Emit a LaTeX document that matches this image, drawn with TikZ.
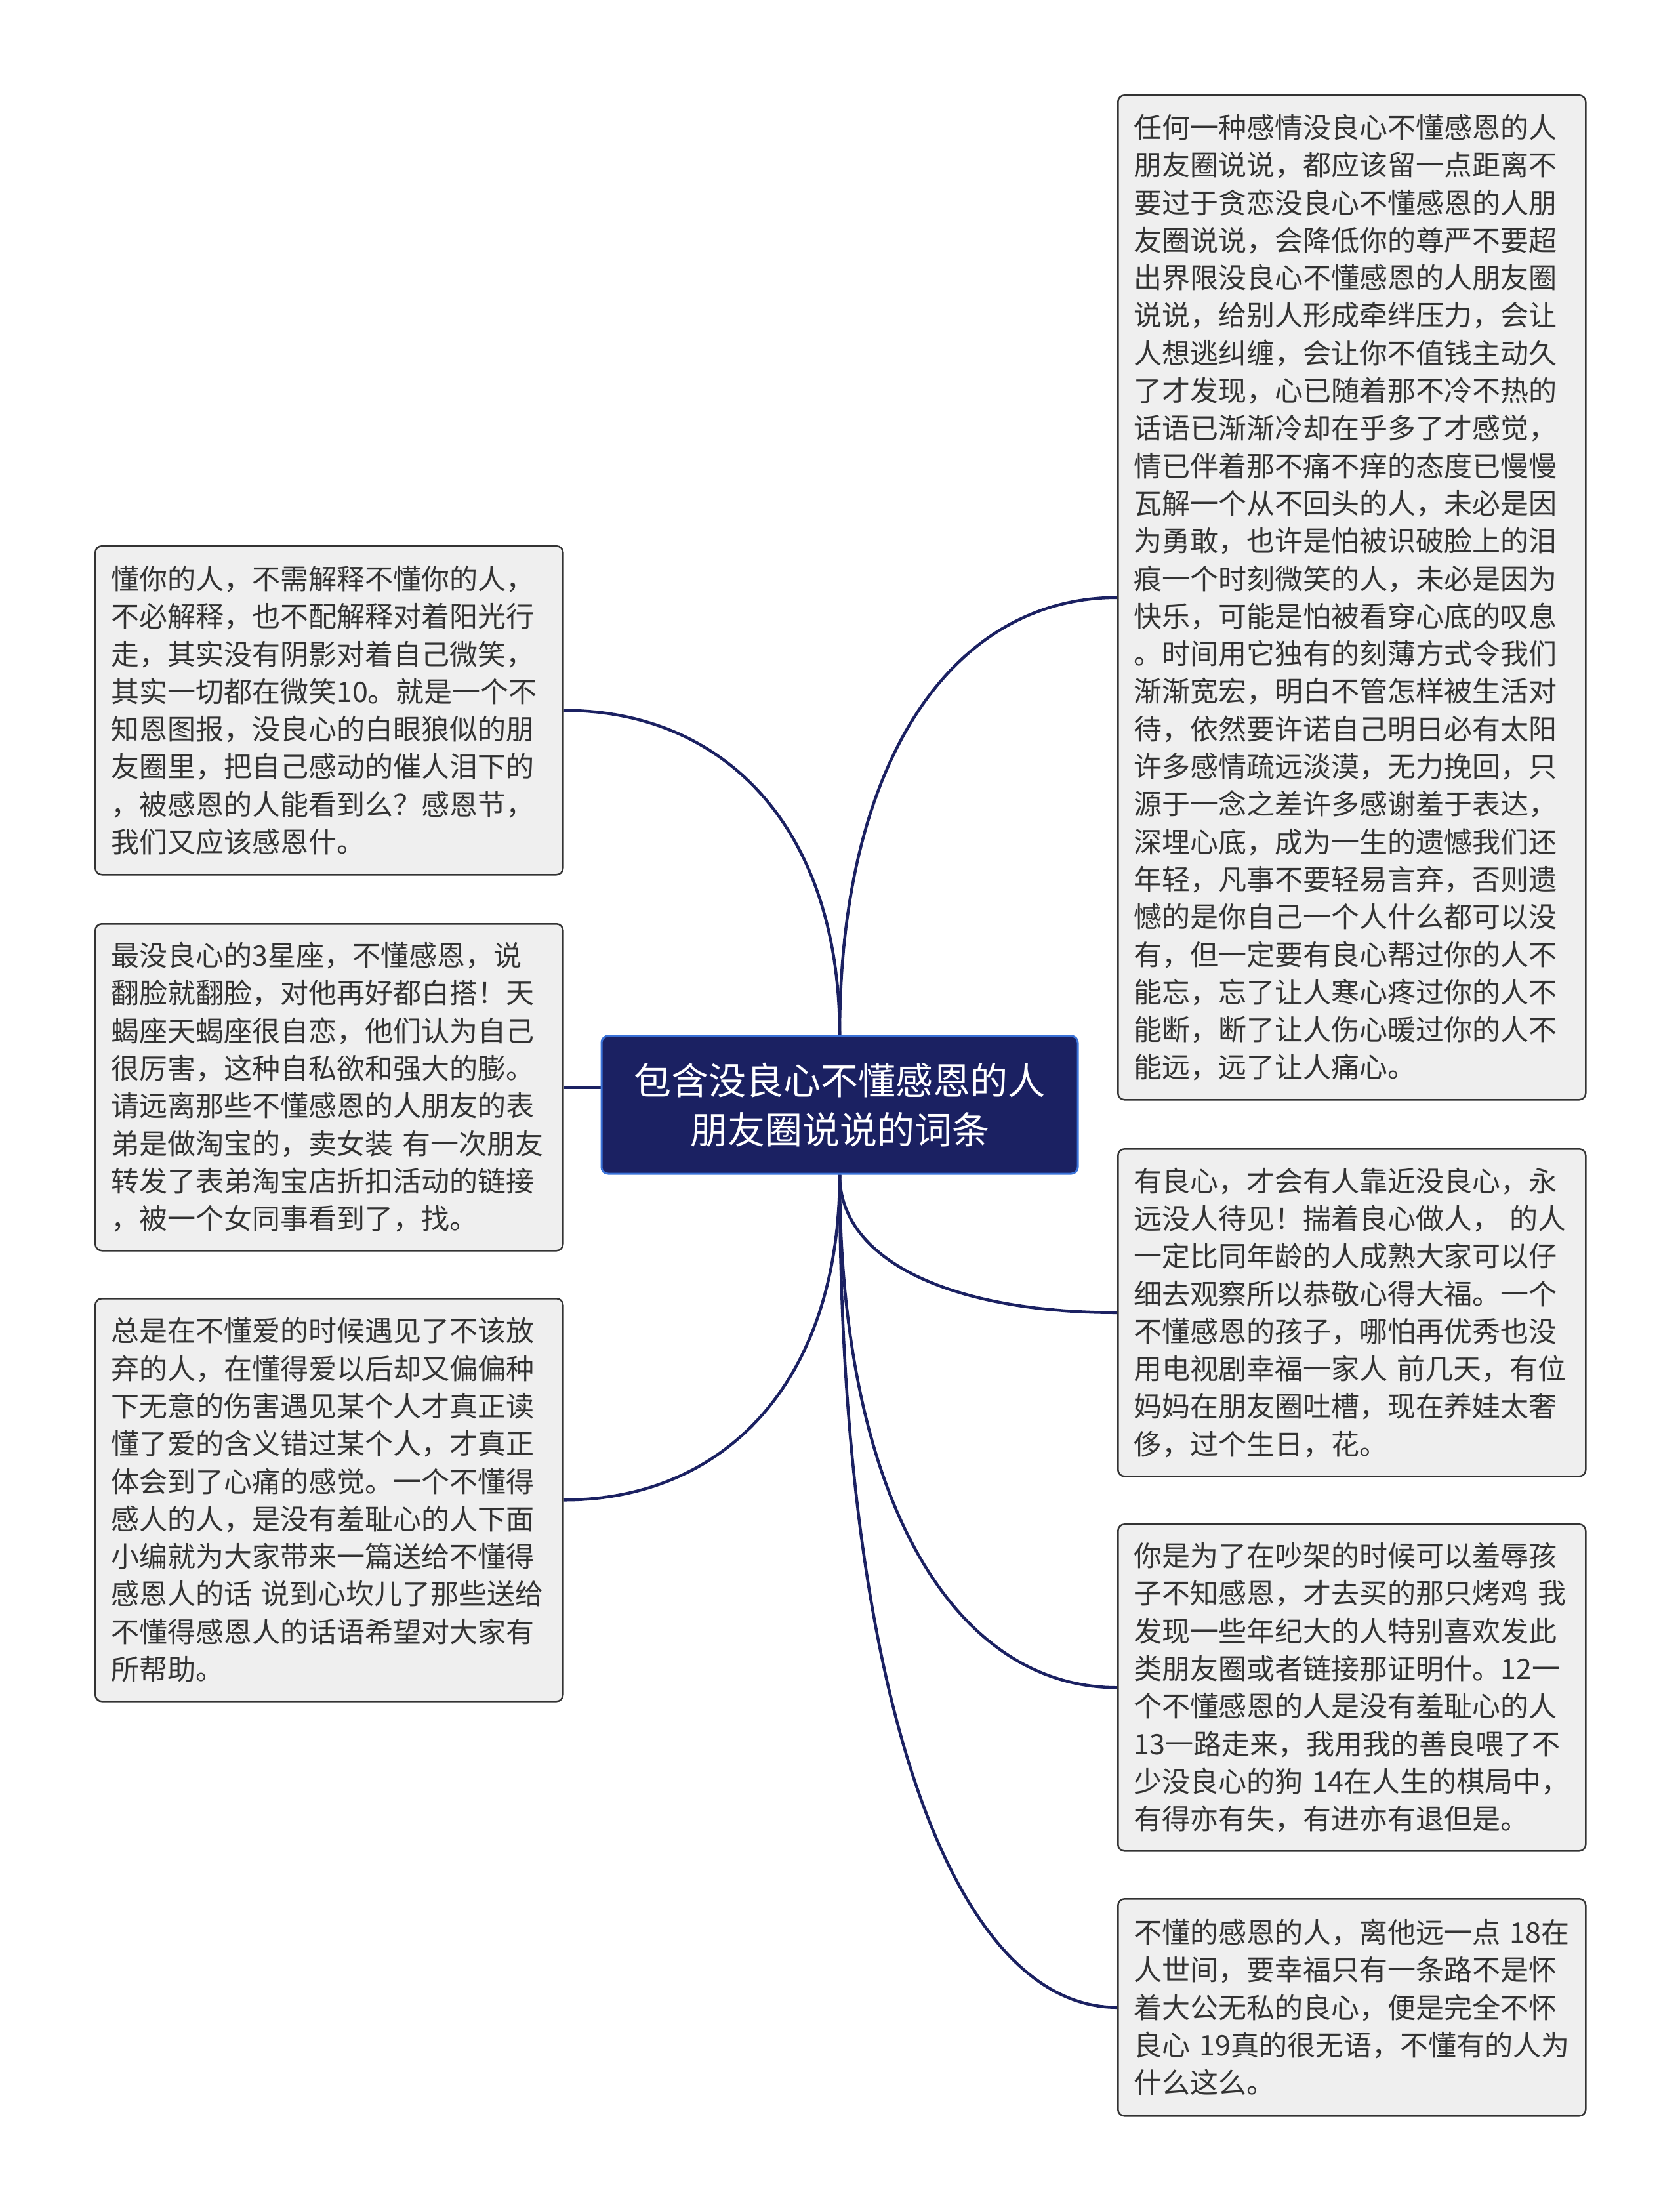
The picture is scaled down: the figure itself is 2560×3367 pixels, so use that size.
\documentclass[tikz,border=0pt]{standalone}
\usepackage{fontspec}
\setmainfont{Noto Sans CJK SC}
\usetikzlibrary{calc}
\definecolor{navy}{HTML}{1B2162}
\definecolor{rootborder}{HTML}{3A72D8}
\definecolor{leaffill}{HTML}{EFEFEF}
\definecolor{leafborder}{HTML}{333333}
\definecolor{leaftext}{HTML}{333333}
\pgfdeclarelayer{background}
\pgfsetlayers{background,main}
% #1 leaf node, #2 its anchor, #3 anchor of root
\newcommand\mmbranch[3]{%
  \draw[conn] (#1.#2) .. controls ($(#1.#2)!0.58!(root.#3 |- #1.#2)$) and ($(root.#3 |- #1.#2)!0.36!(root.#3)$) .. (root.#3);}
\begin{document}
\begin{tikzpicture}[x=1pt,y=-1pt,
  leaf/.style={draw=leafborder, line width=2.5pt, fill=leaffill, rounded corners=10pt,
    text=leaftext, align=left, text width=665pt, inner xsep=24pt, inner ysep=0pt,
    anchor=north west, font=\fontsize{43}{57.3}\selectfont},
  rootnode/.style={draw=rootborder, line width=3pt, fill=navy, rounded corners=10pt,
    text=white, align=center, minimum width=726pt, minimum height=210pt,
    font=\fontsize{57}{75}\selectfont},
  conn/.style={draw=navy, line width=4.5pt}]
\useasboundingbox (0,0) rectangle (2560,3367);

\node[rootnode] (root) at (1280,1684) {包含没良心不懂感恩的人\\朋友圈说说的词条};

\node[leaf, minimum height=501pt] (L1) at (144,831) {懂你的人，不需解释不懂你的人，\\不必解释，也不配解释对着阳光行\\走，其实没有阴影对着自己微笑，\\其实一切都在微笑10。就是一个不\\知恩图报，没良心的白眼狼似的朋\\友圈里，把自己感动的催人泪下的\\，被感恩的人能看到么？感恩节，\\我们又应该感恩什。};

\node[leaf, minimum height=498pt] (L2) at (144,1407) {最没良心的3星座，不懂感恩，说\\翻脸就翻脸，对他再好都白搭！天\\蝎座天蝎座很自恋，他们认为自己\\很厉害，这种自私欲和强大的膨。\\请远离那些不懂感恩的人朋友的表\\弟是做淘宝的，卖女装~有一次朋友\\转发了表弟淘宝店折扣活动的链接\\，被一个女同事看到了，找。};

\node[leaf, minimum height=614pt] (L3) at (144,1978) {总是在不懂爱的时候遇见了不该放\\弃的人，在懂得爱以后却又偏偏种\\下无意的伤害遇见某个人才真正读\\懂了爱的含义错过某个人，才真正\\体会到了心痛的感觉。一个不懂得\\感人的人，是没有羞耻心的人下面\\小编就为大家带来一篇送给不懂得\\感恩人的话~说到心坎儿了那些送给\\不懂得感恩人的话语希望对大家有\\所帮助。};

\node[leaf, minimum height=1531pt] (R1) at (1703,144) {任何一种感情没良心不懂感恩的人\\朋友圈说说，都应该留一点距离不\\要过于贪恋没良心不懂感恩的人朋\\友圈说说，会降低你的尊严不要超\\出界限没良心不懂感恩的人朋友圈\\说说，给别人形成牵绊压力，会让\\人想逃纠缠，会让你不值钱主动久\\了才发现，心已随着那不冷不热的\\话语已渐渐冷却在乎多了才感觉，\\情已伴着那不痛不痒的态度已慢慢\\瓦解一个从不回头的人，未必是因\\为勇敢，也许是怕被识破脸上的泪\\痕一个时刻微笑的人，未必是因为\\快乐，可能是怕被看穿心底的叹息\\。时间用它独有的刻薄方式令我们\\渐渐宽宏，明白不管怎样被生活对\\待，依然要许诺自己明日必有太阳\\许多感情疏远淡漠，无力挽回，只\\源于一念之差许多感谢羞于表达，\\深埋心底，成为一生的遗憾我们还\\年轻，凡事不要轻易言弃，否则遗\\憾的是你自己一个人什么都可以没\\有，但一定要有良心帮过你的人不\\能忘，忘了让人寒心疼过你的人不\\能断，断了让人伤心暖过你的人不\\能远，远了让人痛心。};

\node[leaf, minimum height=499pt] (R2) at (1703,1750) {有良心，才会有人靠近没良心，永\\远没人待见！揣着良心做人，~的人\\一定比同年龄的人成熟大家可以仔\\细去观察所以恭敬心得大福。一个\\不懂感恩的孩子，哪怕再优秀也没\\用电视剧幸福一家人~前几天，有位\\妈妈在朋友圈吐槽，现在养娃太奢\\侈，过个生日，花。};

\node[leaf, minimum height=498pt] (R3) at (1703,2322) {你是为了在吵架的时候可以羞辱孩\\子不知感恩，才去买的那只烤鸡~我\\发现一些年纪大的人特别喜欢发此\\类朋友圈或者链接那证明什。12一\\个不懂感恩的人是没有羞耻心的人\\13一路走来，我用我的善良喂了不\\少没良心的狗~14在人生的棋局中，\\有得亦有失，有进亦有退但是。};

\node[leaf, minimum height=331pt] (R4) at (1703,2893) {不懂的感恩的人，离他远一点~18在\\人世间，要幸福只有一条路不是怀\\着大公无私的良心，便是完全不怀\\良心~19真的很无语，不懂有的人为\\什么这么。};

\begin{pgfonlayer}{background}
\fill[white] (0,0) rectangle (2560,3367);
\mmbranch{L1}{east}{north}
\draw[conn] (L2.east) -- (L2.east -| root.west);
\mmbranch{L3}{east}{south}
\mmbranch{R1}{west}{north}
\mmbranch{R2}{west}{south}
\mmbranch{R3}{west}{south}
\mmbranch{R4}{west}{south}
\end{pgfonlayer}
\end{tikzpicture}
\end{document}
